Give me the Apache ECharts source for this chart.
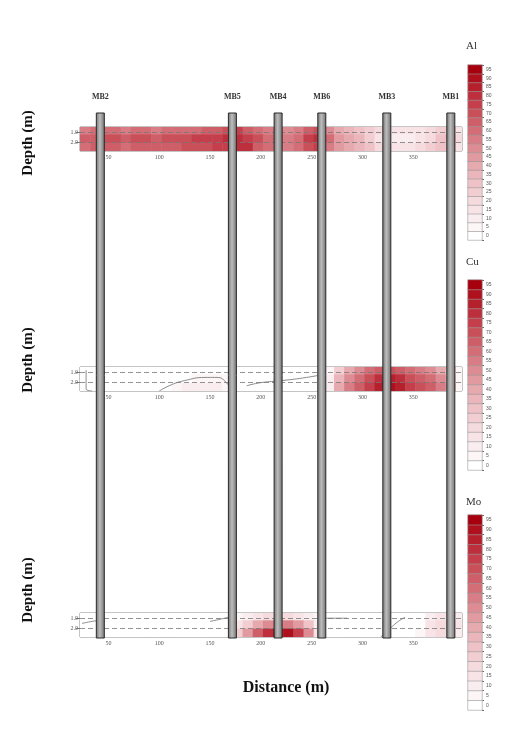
<!DOCTYPE html>
<html>
<head>
<meta charset="utf-8">
<script src="https://cdn.jsdelivr.net/npm/echarts@6/dist/echarts.min.js"></script>
<style>html,body{margin:0;padding:0;background:#fff}#c{width:515px;height:729px}</style>
</head>
<body>
<div id="c"></div>
<script>
// ---- data (shade level 0 = white ... 19 = darkest red) ----
const cellLeft = [22,32,42,52,62,72,82,92,102,112,122,132,142,152,162,172,182,192,202,212,222,232,242,252,262,272,282,292,302,312,322,332,342,352,362,372,382,392];
const bandTop = [0.5, 1.2, 2.0];
const bandBottom = [1.2, 2.0, 2.8];

const alTop = [11,12,12,12,11,12,12,11,12,12,12,12,13,13,14,15,13,12,11,12,10,11,13,14,10,8,7,6,5,4,3,3,3,3,4,5,6,3];
const alMid = [13,13,14,14,13,14,14,13,14,14,14,15,15,15,16,16,15,14,12,13,11,12,15,16,12,9,8,7,5,3,2,2,2,3,4,6,7,4];
const alBot = [12,13,13,13,12,13,13,13,13,13,14,14,14,15,15,16,16,13,12,12,11,12,14,15,11,9,8,7,6,4,3,3,3,4,5,6,6,3];

const cuTop = [0,0,0,0,0,0,0,0,0,0,0,0,0,0,0,0,0,0,0,0,0,0,0,0,1,5,8,10,12,13,14,13,12,11,10,8,5,1];
const cuMid = [0,0,0,0,0,0,0,0,0,0,0,1,1,1,1,0,0,0,0,0,0,0,0,0,2,7,10,12,14,16,17,16,14,13,12,10,6,1];
const cuBot = [0,0,0,0,0,0,0,0,0,1,2,2,2,2,1,0,0,0,0,0,0,0,0,0,2,8,11,13,15,17,18,17,15,14,13,11,7,1];

const moTop = [0,0,0,0,0,0,0,0,0,0,0,0,0,0,0,1,2,3,4,4,4,3,2,1,0,0,0,0,0,0,0,0,0,0,2,3,3,2];
const moMid = [0,0,0,0,0,0,0,0,0,0,0,0,0,0,0,3,5,8,10,11,11,9,6,2,0,0,0,0,0,0,0,0,0,0,3,4,4,3];
const moBot = [0,0,0,0,0,0,0,0,0,0,0,0,0,0,0,5,9,13,16,18,18,15,10,3,0,0,0,0,0,0,0,0,0,1,3,4,4,2];

// contour lines [distance, depth]
const cuContourA = [[100,2.8],[112,2.2],[125,1.8],[145,1.5],[158,1.5],[166,2.0],[170,2.5]];
const cuContourB = [[186,2.3],[200,2.0],[221,1.8],[245,1.5],[262,1.2]];
const cuContourC = [[28,0.8],[28,2.6],[34,2.8]];
const moContourA = [[24,1.5],[34,1.3],[42,1.2]];
const moContourB = [[150,1.3],[160,1.1],[168,0.9]];
const moContourC = [[318,2.8],[326,2.1],[334,1.4],[342,0.9]];
const moContourD = [[262,1.0],[285,1.0]];

const boreholeNames = ['MB2','MB5','MB4','MB6','MB3','MB1'];
const boreholeDistances = [42,172,217,260,324,387];

const distanceTicks = [50,100,150,200,250,300,350];
const depthTicks = [1.0, 2.0];
const colorbarLevels = [0,1,2,3,4,5,6,7,8,9,10,11,12,13,14,15,16,17,18,19];
const elementNames = ['Al','Cu','Mo'];

// ---- build ----
const CELL = 10;
function cells(rows) {
  const out = [];
  rows.forEach((row, r) => {
    row.forEach((v, i) => {
      out.push([cellLeft[i], cellLeft[i] + CELL, bandTop[r], bandBottom[r], v]);
    });
  });
  return out;
}
const panels = [[alTop, alMid, alBot], [cuTop, cuMid, cuBot], [moTop, moMid, moBot]];
const contours = [[], [cuContourA, cuContourB, cuContourC], [moContourA, moContourB, moContourC, moContourD]];
const stripTops = [127, 367, 613];
const stripH = 24;
const cbTops = [65, 280, 515];
const cbHeights = [175, 190, 195];

const grids = [], xAxis = [], yAxis = [], series = [];
const serif = 'Liberation Serif, DejaVu Serif, serif';

stripTops.forEach((t) => {
  grids.push({left: 80, top: t, width: 382, height: stripH, show: true, borderColor: '#8a8a8a', borderWidth: 1, backgroundColor: '#fff'});
});
// borehole overlay grid (index 3)
grids.push({left: 80, top: 113, width: 382, height: 525});
// colorbar grids (4..6)
cbTops.forEach((t, k) => grids.push({left: 468, top: t, width: 14, height: cbHeights[k]}));

// x axes
for (let k = 0; k < 3; k++) {
  xAxis.push({type: 'value', gridIndex: k, min: 22, max: 398, position: 'bottom',
    axisLine: {show: false}, splitLine: {show: false},
    axisTick: {show: true, inside: true, length: 3, customValues: distanceTicks, lineStyle: {color: '#777'}},
    axisLabel: {customValues: distanceTicks, fontSize: 6, color: '#555', margin: 3, fontFamily: serif}});
}
for (let k = 0; k < 3; k++) {
  xAxis.push({type: 'value', gridIndex: k, min: 22, max: 398, position: 'top',
    axisLine: {show: false}, splitLine: {show: false},
    axisTick: {show: true, inside: true, length: 3, customValues: distanceTicks, lineStyle: {color: '#777'}},
    axisLabel: {show: false}});
}
xAxis.push({type: 'value', gridIndex: 3, min: 22, max: 398, show: false});
for (let k = 0; k < 3; k++) xAxis.push({type: 'category', gridIndex: 4 + k, data: ['x'], show: false});

// y axes
for (let k = 0; k < 3; k++) {
  yAxis.push({type: 'value', gridIndex: k, min: 0.5, max: 2.8, inverse: true,
    axisLine: {show: false}, splitLine: {show: false},
    axisTick: {show: true, length: 4, customValues: depthTicks, lineStyle: {color: '#777'}},
    axisLabel: {customValues: depthTicks, formatter: v => v.toFixed(1), fontSize: 6, color: '#555', margin: 2, fontFamily: serif}});
}
yAxis.push({type: 'value', gridIndex: 3, min: 0, max: 1, show: false});
for (let k = 0; k < 3; k++) {
  yAxis.push({type: 'category', gridIndex: 4 + k, data: colorbarLevels.map(String), position: 'right',
    axisLine: {show: false}, axisTick: {show: true, length: 2, lineStyle: {color: '#666'}},
    axisLabel: {fontSize: 5, color: '#555', margin: 4, formatter: v => (Number(v) * 5) + ''}});
}

// strips
panels.forEach((rows, k) => {
  series.push({
    type: 'custom', xAxisIndex: k, yAxisIndex: k, clip: true, z: 2,
    data: cells(rows),
    encode: {x: [0, 1], y: [2, 3]},
    renderItem: function (params, api) {
      const p0 = api.coord([api.value(0), api.value(2)]);
      const p1 = api.coord([api.value(1), api.value(3)]);
      return {type: 'rect', shape: {x: p0[0], y: p0[1], width: p1[0] - p0[0] + 0.5, height: p1[1] - p0[1] + 0.5},
        style: {fill: api.visual('color')}};
    },
    markLine: {silent: true, symbol: 'none', label: {show: false},
      lineStyle: {color: '#777', type: [5, 3], width: 0.8},
      data: depthTicks.map(d => ({yAxis: d}))}
  });
});

// colorbars (series 3..5)
for (let k = 0; k < 3; k++) {
  series.push({type: 'heatmap', xAxisIndex: 7 + k, yAxisIndex: 4 + k,
    data: colorbarLevels.map(l => [0, l, l]),
    itemStyle: {borderColor: '#9a9a9a', borderWidth: 0.6}});
}

// contour lines
contours.forEach((list, k) => {
  list.forEach(line => {
    series.push({type: 'line', xAxisIndex: k, yAxisIndex: k, data: line, smooth: true, symbol: 'none', z: 4,
      lineStyle: {color: '#6f6f6f', width: 0.8}, silent: true});
  });
});

// boreholes
series.push({
  type: 'custom', xAxisIndex: 6, yAxisIndex: 3, z: 10, clip: false,
  data: boreholeDistances.map(d => [d, 0]),
  renderItem: function (params, api) {
    const x = api.coord([api.value(0), 0])[0];
    const cs = params.coordSys;
    return {type: 'group', children: [
      {type: 'rect', shape: {x: x - 4, y: cs.y, width: 8, height: cs.height},
        style: {fill: new echarts.graphic.LinearGradient(0, 0, 1, 0, [
          {offset: 0, color: '#6e6e6e'}, {offset: 0.45, color: '#bdbdbd'}, {offset: 1, color: '#6e6e6e'}]),
          stroke: '#2a2a2a', lineWidth: 1}},
      {type: 'text', style: {text: boreholeNames[params.dataIndex], x: x, y: cs.y - 16,
        align: 'center', verticalAlign: 'middle', font: 'bold 8px ' + serif, fill: '#333'}}
    ]};
  }
});

const option = {
  animation: false,
  backgroundColor: '#fff',
  grid: grids, xAxis: xAxis, yAxis: yAxis, series: series,
  visualMap: {type: 'continuous', show: false, min: 0, max: 19,
    seriesIndex: [0, 1, 2, 3, 4, 5],
    inRange: {color: ['#ffffff', '#f6dde0', '#e8afb4', '#d6777f', '#c33c48', '#a6000e']}},
  graphic: [
    {type: 'text', rotation: Math.PI / 2, x: 28, y: 143, style: {text: 'Depth (m)', font: 'bold 15px ' + serif, fill: '#111', align: 'center', verticalAlign: 'middle'}},
    {type: 'text', rotation: Math.PI / 2, x: 28, y: 360, style: {text: 'Depth (m)', font: 'bold 15px ' + serif, fill: '#111', align: 'center', verticalAlign: 'middle'}},
    {type: 'text', rotation: Math.PI / 2, x: 28, y: 590, style: {text: 'Depth (m)', font: 'bold 15px ' + serif, fill: '#111', align: 'center', verticalAlign: 'middle'}},
    {type: 'text', x: 286, y: 688, style: {text: 'Distance (m)', font: 'bold 16px ' + serif, fill: '#111', align: 'center', verticalAlign: 'middle'}},
    {type: 'text', x: 466, y: 46, style: {text: elementNames[0], font: '11px ' + serif, fill: '#333', verticalAlign: 'middle'}},
    {type: 'text', x: 466, y: 262, style: {text: elementNames[1], font: '11px ' + serif, fill: '#333', verticalAlign: 'middle'}},
    {type: 'text', x: 466, y: 502, style: {text: elementNames[2], font: '11px ' + serif, fill: '#333', verticalAlign: 'middle'}}
  ]
};
const chart = echarts.init(document.getElementById('c'), null, {renderer: 'canvas'});
chart.setOption(option);
</script>
</body>
</html>
